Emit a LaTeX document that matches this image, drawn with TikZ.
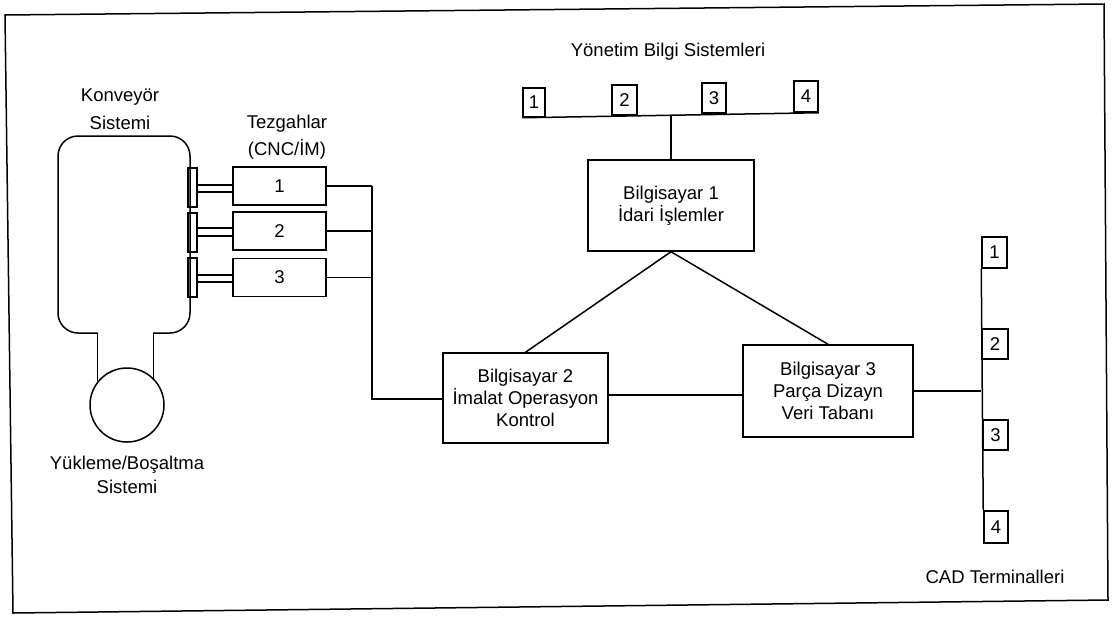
\documentclass[tikz,border=0pt]{standalone}
\usepackage{fontspec}
\setmainfont{Liberation Sans}
\begin{document}
\begin{tikzpicture}[x=1pt,y=-1pt,line width=1.5pt,
  every node/.style={font=\fontsize{18.5}{22}\selectfont},
  box/.style={draw,align=center,inner sep=0pt},
  lbl/.style={align=center,inner sep=0pt}]
\useasboundingbox (0,0) rectangle (1118,616);
% frame
\draw (5,15) -- (1104,4) -- (1108,600) -- (13,613) -- cycle;

% conveyor system
\node[box,circle,minimum size=74pt] (load) at (127,405) {};
\draw[rounded corners=20pt] (98,333) -- (58,333) -- (58,136) -- (190,136) -- (190,333) -- (153,333);
\draw (load.141.6) -- (load.141.6 |- 0,333);
\draw (load.45) -- (load.45 |- 0,333);

% tabs
\node[box,minimum width=9pt,minimum height=39pt] (t1) at (192.5,187.5) {};
\node[box,minimum width=9pt,minimum height=39pt] (t2) at (192.5,232.5) {};
\node[box,minimum width=9pt,minimum height=39pt] (t3) at (192.5,277.5) {};

% machines
\node[box,minimum width=93pt,minimum height=38pt] (m1) at (279.5,186) {1};
\node[box,minimum width=93pt,minimum height=38pt] (m2) at (279.5,231) {2};
\node[box,minimum width=93pt,minimum height=38pt] (m3) at (279.5,277.5) {3};

\draw (t1.east |- 0,185) -- (m1.west |- 0,185);
\draw (t1.east |- 0,192) -- (m1.west |- 0,192);
\draw (t2.east |- 0,228) -- (m2.west |- 0,228);
\draw (t2.east |- 0,236) -- (m2.west |- 0,236);
\draw (t3.east |- 0,275) -- (m3.west |- 0,275);
\draw (t3.east |- 0,282) -- (m3.west |- 0,282);

% computers
\node[box,minimum width=166pt,minimum height=91pt] (b1) at (671,205.5) {Bilgisayar 1\\İdari İşlemler};
\node[box,minimum width=165pt,minimum height=90pt] (b2) at (525.5,398) {Bilgisayar 2\\İmalat Operasyon\\Kontrol};
\node[box,minimum width=170pt,minimum height=92pt] (b3) at (828,391) {Bilgisayar 3\\Parça Dizayn\\Veri Tabanı};

% machine bus
\coordinate (j) at (372,399);
\draw (m1.east) -- (m1.east -| j);
\draw (m2.east) -- (m2.east -| j);
\draw (m3.east) -- (m3.east -| j);
\draw (m1.east -| j) -- (j) -- (b2.west |- j);

% MIS terminals
\node[box,minimum width=22pt,minimum height=29pt] (s1) at (534,102.5) {1};
\node[box,minimum width=25pt,minimum height=30pt] (s2) at (624.5,100) {2};
\node[box,minimum width=24pt,minimum height=30pt] (s3) at (714,98) {3};
\node[box,minimum width=24pt,minimum height=31pt] (s4) at (806,96.5) {4};
\draw (s1.south west) -- (s4.south east);
\draw (b1.north) -- (b1.north |- 0,115);

% computer links
\draw (b1.south) -- (b2.north);
\draw (b1.south) -- (b3.north);
\draw (b2.east |- 0,395) -- (b3.west |- 0,395);

% CAD terminals
\node[box,minimum width=25pt,minimum height=31pt] (c1) at (994.5,252.5) {1};
\node[box,minimum width=26pt,minimum height=30pt] (c2) at (995,344) {2};
\node[box,minimum width=25pt,minimum height=30pt] (c3) at (995.5,435) {3};
\node[box,minimum width=24pt,minimum height=32pt] (c4) at (996,527) {4};
\draw (c1.south west) -- (c4.north west);
\draw (b3.east) -- (b3.east -| c2.west);

% labels
\node[lbl] (konv) at (120,109) {Konveyör\\[6pt]Sistemi};
\node[lbl] (tezg) at (287,137) {Tezgahlar\\[5pt](CNC/İM)};
\node[lbl] (yuk) at (127,475) {Yükleme/Boşaltma\\[2pt]Sistemi};
\node[lbl] (mis) at (668,52) {Yönetim Bilgi Sistemleri};
\node[lbl] (cad) at (995,577) {CAD Terminalleri};
\end{tikzpicture}
\end{document}
